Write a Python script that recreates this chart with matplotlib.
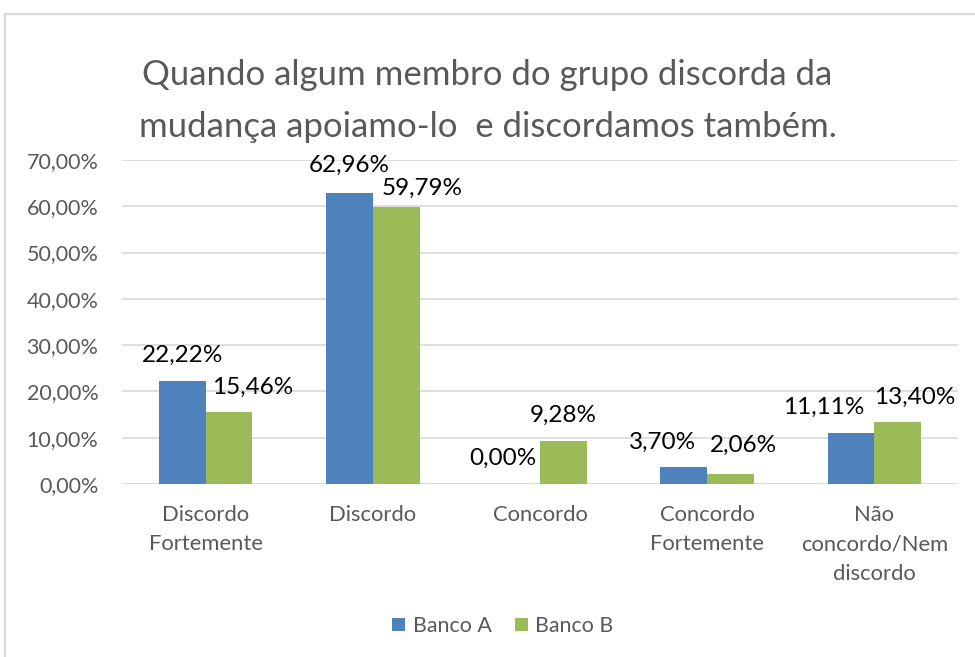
import matplotlib
matplotlib.use("Agg")
import matplotlib.pyplot as plt
from matplotlib.patches import Rectangle
import numpy as np

categories = ["Discordo\nFortemente", "Discordo", "Concordo", "Concordo\nFortemente", "Não\nconcordo/Nem\ndiscordo"]
banco_a = [22.22, 62.96, 0.00, 3.70, 11.11]
banco_b = [15.46, 59.79, 9.28, 2.06, 13.40]
series_names = ["Banco A", "Banco B"]
yticks = [0, 10, 20, 30, 40, 50, 60, 70]
title = "Quando algum membro do grupo discorda da\nmudança apoiamo-lo  e discordamos também."

# label offsets in pixels (dx, dy) relative to bar top center
off_a = [(0, 26), (0, 27), (-14, 26), (-21, 25), (-27, 25)]
off_b = [(24, 25), (26, 19), (0, 26), (13, 29), (17, 25)]

plt.rcParams['font.family'] = ['Lato', 'DejaVu Sans']
W, H = 975, 657
fig = plt.figure(figsize=(W/100, H/100), dpi=100)
ax = fig.add_axes([122/W, 1-484/H, (958-122)/W, (484-160)/H])

x = np.arange(len(categories))
bw = 0.28
c_a = "#4F81BD"
c_b = "#9BBB59"
ba = ax.bar(x - bw/2, banco_a, bw, color=c_a, label=series_names[0], zorder=3)
bb = ax.bar(x + bw/2, banco_b, bw, color=c_b, label=series_names[1], zorder=3)

ax.set_xlim(-0.5, len(categories)-0.5)
ax.set_ylim(0, 70)
ax.set_yticks(yticks)
ax.set_yticklabels([f"{v:.2f}%".replace(".", ",") for v in yticks], color="#595959", fontsize=15.5)
ax.set_xticks(x)
ax.set_xticklabels(categories, color="#595959", fontsize=15.8, linespacing=1.6)
ax.tick_params(axis='both', length=0)
ax.tick_params(axis='y', pad=17)
ax.tick_params(axis='x', pad=15)
for s in ax.spines.values():
    s.set_visible(False)
ax.grid(axis='y', color="#D9D9D9", linewidth=1.2, zorder=0)
ax.axhline(0, color="#D9D9D9", linewidth=1.2, zorder=1)

for i in range(len(categories)):
    for vals, offs, sign in ((banco_a, off_a, -1), (banco_b, off_b, 1)):
        v = vals[i]
        dx, dy = offs[i]
        ax.annotate(f"{v:.2f}%".replace(".", ","), xy=(i + sign*bw/2, v),
                    xytext=(dx*0.72, dy*0.72), textcoords="offset points",
                    ha="center", va="center", fontsize=17.5, color="black", zorder=4)

fig.text(0.5, 1-101/H, title, ha="center", va="center", fontsize=25, color="#595959", linespacing=1.75)

leg = fig.legend(handles=[ba, bb], labels=series_names, loc="center", bbox_to_anchor=(503/W, 1-626/H),
                 ncol=2, frameon=False, fontsize=15.4, handlelength=0.6, handleheight=0.6,
                 handletextpad=0.35, columnspacing=1.1)
for t in leg.get_texts():
    t.set_color("#595959")

fig.patches.append(Rectangle((5/W, -0.1), 1.2, 1-14/H+0.1, transform=fig.transFigure,
                             fill=False, edgecolor="#D9D9D9", linewidth=1.5))

fig.savefig("out.png", dpi=100, facecolor="white")
